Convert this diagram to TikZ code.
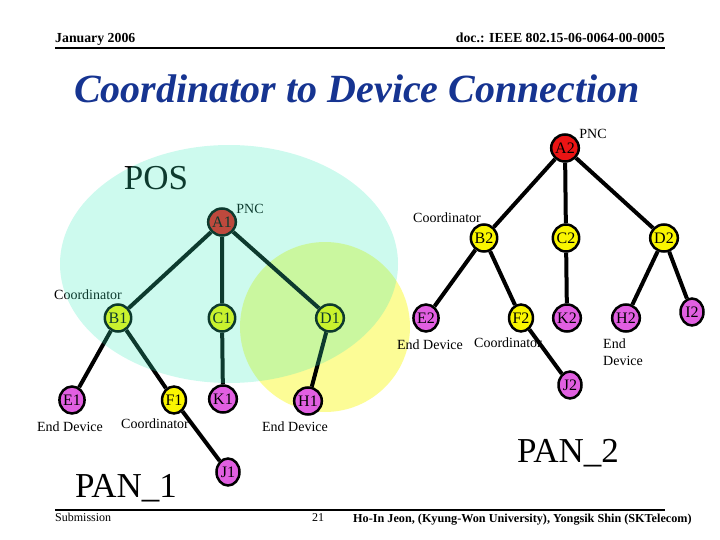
\documentclass[tikz,border=0pt]{standalone}
\usepackage{fontspec}
\setmainfont{Liberation Serif}
\usetikzlibrary{shapes.geometric}
\definecolor{titleblue}{RGB}{22,52,145}
\definecolor{pncred}{RGB}{235,20,20}
\definecolor{coordyellow}{RGB}{250,245,0}
\definecolor{endviolet}{RGB}{225,95,225}
\definecolor{posyellow}{RGB}{252,252,150}
\definecolor{poscyan}{RGB}{55,235,187}

\begin{document}
\begin{tikzpicture}[x=1pt, y=-1pt,
  dev/.style = {shape=ellipse, draw, line width=2.5pt, inner sep=0pt,
    minimum width=23pt, minimum height=27pt, font=\fontsize{16}{16}\selectfont},
  pnc/.style = {dev, fill=pncred},
  coord/.style = {dev, fill=coordyellow},
  enddev/.style = {dev, fill=endviolet},
  lbl/.style = {font=\fontsize{14}{17}\selectfont, align=left, inner sep=0pt},
  big/.style = {font=\fontsize{35}{35}\selectfont, anchor=base, inner sep=0pt},
  link/.style = {line width=4pt}]
  \useasboundingbox (0,0) rectangle (720,540);

  % header and footer
  \node[anchor=base west, inner sep=0pt, font=\bfseries\fontsize{13.8}{14}\selectfont] (date) at (55,43) {January 2006};
  \node[anchor=base east, inner sep=0pt, font=\bfseries\fontsize{13.8}{14}\selectfont] (doc) at (665,43) {doc.: IEEE 802.15-06-0064-00-0005};
  \draw[line width=2pt] (55,48) -- (665,48);
  \node[text=titleblue, font=\bfseries\itshape\fontsize{40}{40}\selectfont] (title) at (357,89) {Coordinator to Device Connection};
  \draw[line width=1.5pt] (55,510) -- (665,510);
  \node[anchor=base west, inner sep=0pt, font=\fontsize{12}{12}\selectfont] (sub) at (55,521) {Submission};
  \node[anchor=base, inner sep=0pt, font=\fontsize{12}{12}\selectfont] (page) at (318,521) {21};
  \node[anchor=base west, inner sep=0pt, font=\bfseries\fontsize{12.2}{12}\selectfont] (authors) at (353,522) {Ho-In Jeon, (Kyung-Won University), Yongsik Shin (SKTelecom)};

  \fill[posyellow] (325,327) circle (85);

  % PAN_1
  \node[pnc] (a1) at (222,222) {A1};
  \node[coord] (b1) at (118,318) {B1};
  \node[coord] (c1) at (222,318) {C1};
  \node[coord] (d1) at (330,318) {D1};
  \node[enddev] (e1) at (72,400) {E1};
  \node[coord] (f1) at (174,400) {F1};
  \node[enddev] (k1) at (223,399) {K1};
  \node[enddev] (h1) at (308,401) {H1};
  \node[enddev] (j1) at (228,472) {J1};
  \draw[link] (a1) -- (b1) (a1) -- (c1) (a1) -- (d1)
    (b1) -- (e1) (b1) -- (f1) (c1) -- (k1) (d1) -- (h1) (f1) -- (j1);
  \node[lbl] (pnc1) at (250,209) {PNC};
  \node[lbl] (coordb1) at (88,295) {Coordinator};
  \node[lbl] (ende1) at (70,427) {End Device};
  \node[lbl] (coordf1) at (155,424) {Coordinator};
  \node[lbl] (endh1) at (295,427) {End Device};
  \node[big] (pos) at (156,190) {POS};
  \node[big] (pan1) at (126,497) {PAN\_1};

  \fill[poscyan, fill opacity=0.25] (229,264) ellipse (169 and 119);

  % PAN_2
  \node[pnc] (a2) at (565,148) {A2};
  \node[coord] (b2) at (484,238) {B2};
  \node[coord] (c2) at (566,238) {C2};
  \node[coord] (d2) at (664,238) {D2};
  \node[enddev] (e2) at (426,318) {E2};
  \node[coord] (f2) at (521,318) {F2};
  \node[enddev] (k2) at (567,318) {K2};
  \node[enddev] (h2) at (626,318) {H2};
  \node[enddev] (i2) at (692,312) {I2};
  \node[enddev] (j2) at (570,385) {J2};
  \draw[link] (a2) -- (b2) (a2) -- (c2) (a2) -- (d2)
    (b2) -- (e2) (b2) -- (f2) (c2) -- (k2) (d2) -- (h2) (d2) -- (i2) (f2) -- (j2);
  \node[lbl] (pnc2) at (593,134) {PNC};
  \node[lbl] (coordb2) at (447,218) {Coordinator};
  \node[lbl] (ende2) at (430,345) {End Device};
  \node[lbl] (coordf2) at (508,343) {Coordinator};
  \node[lbl, anchor=west] (endh2) at (603,352) {End\\Device};
  \node[big] (pan2) at (568,462) {PAN\_2};
\end{tikzpicture}
\end{document}
